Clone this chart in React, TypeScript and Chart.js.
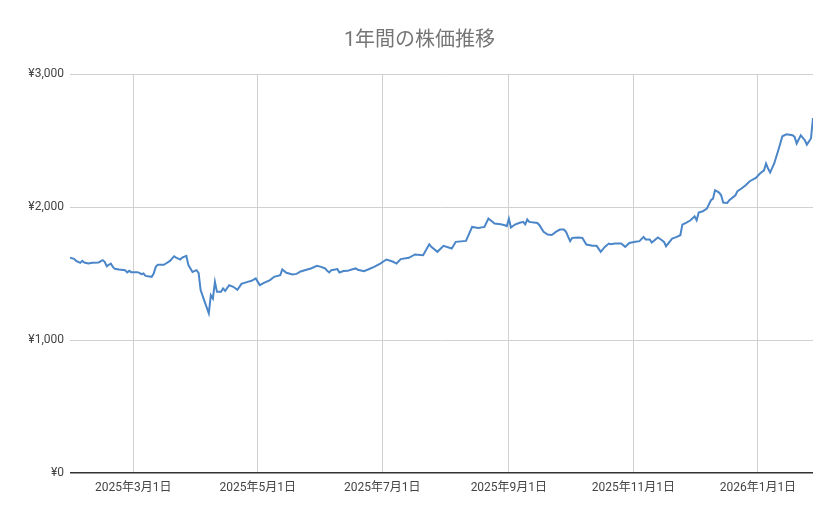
import { useEffect, useRef } from "react";
import { Chart, registerables } from "chart.js";

Chart.register(...registerables);

// days counted from 2025-01-29 (start of the one-year window)
const dayOffsets = [
  0, 2, 3, 5, 6, 7, 9, 11, 14, 16, 17, 18, 20, 21, 22, 24, 27, 28, 29, 30,
  33, 34, 35, 36, 37, 40, 41, 42, 43, 46, 47, 49, 51, 52, 54, 55, 57, 58, 59, 60,
  62, 63, 64, 66, 68, 69, 70, 71, 72, 74, 75, 76, 78, 80, 82, 84, 87, 89, 91, 92,
  93, 95, 98, 100, 103, 104, 106, 109, 111, 113, 115, 118, 121, 123, 125, 126, 127, 128, 131, 132,
  134, 136, 138, 140, 141, 144, 146, 149, 152, 155, 158, 160, 162, 166, 169, 173, 176, 177, 180, 183,
  187, 189, 194, 197, 200, 203, 205, 208, 211, 213, 214, 215, 216, 218, 220, 222, 223, 224, 225, 229,
  230, 232, 234, 236, 238, 240, 242, 243, 245, 246, 249, 251, 253, 256, 258, 260, 262, 264, 265, 267,
  270, 272, 274, 277, 279, 281, 282, 284, 285, 288, 290, 291, 292, 295, 297, 299, 300, 302, 304, 306,
  307, 308, 310, 312, 314, 315, 316, 318, 319, 320, 322, 323, 326, 327, 329, 331, 333, 336, 338, 340,
  341, 342, 343, 345, 347, 349, 351, 354, 355, 356, 358, 360, 361, 363, 364,
];

const prices = [
  1618, 1610, 1595, 1580, 1595, 1583, 1575, 1580, 1583, 1600, 1588, 1555, 1575, 1550, 1535, 1530, 1525, 1508, 1520, 1510,
  1510, 1505, 1495, 1500, 1482, 1475, 1500, 1550, 1565, 1565, 1575, 1595, 1630, 1620, 1605, 1620, 1633, 1563, 1538, 1512,
  1525, 1505, 1375, 1287, 1200, 1337, 1312, 1437, 1362, 1362, 1388, 1370, 1412, 1400, 1378, 1422, 1437, 1445, 1463, 1437,
  1412, 1430, 1450, 1475, 1488, 1530, 1505, 1493, 1497, 1515, 1525, 1538, 1558, 1550, 1538, 1520, 1508, 1525, 1533, 1508,
  1518, 1520, 1530, 1538, 1528, 1518, 1530, 1550, 1575, 1605, 1590, 1575, 1608, 1618, 1643, 1638, 1720, 1700, 1663, 1708,
  1688, 1738, 1745, 1850, 1843, 1850, 1913, 1876, 1870, 1863, 1856, 1913, 1846, 1868, 1880, 1888, 1870, 1906, 1888, 1880,
  1863, 1813, 1793, 1790, 1813, 1830, 1830, 1813, 1743, 1768, 1771, 1768, 1718, 1708, 1708, 1663, 1700, 1725, 1720, 1725,
  1725, 1700, 1730, 1738, 1743, 1775, 1756, 1756, 1733, 1771, 1750, 1738, 1705, 1763, 1773, 1788, 1868, 1883, 1900, 1930,
  1900, 1958, 1968, 1988, 2051, 2063, 2126, 2108, 2088, 2033, 2031, 2051, 2088, 2119, 2139, 2164, 2194, 2219, 2252, 2276,
  2327, 2289, 2259, 2327, 2427, 2532, 2547, 2539, 2527, 2477, 2539, 2502, 2469, 2515, 2669,
];

// month-start ticks (day offsets) and their labels
const tickDays = [31, 92, 153, 215, 276, 337];
const tickLabels = [
  "2025年3月1日",
  "2025年5月1日",
  "2025年7月1日",
  "2025年9月1日",
  "2025年11月1日",
  "2026年1月1日",
];

const yTicks = [0, 1000, 2000, 3000];

const FONT = "Roboto, 'Noto Sans CJK JP', sans-serif";

export default function App() {
  const canvasRef = useRef<HTMLCanvasElement>(null);

  useEffect(() => {
    document.body.style.margin = "0";
    if (!canvasRef.current) return;
    const ctx = canvasRef.current.getContext("2d");
    if (!ctx) return;

    const chart = new Chart(ctx, {
      type: "line",
      data: {
        datasets: [
          {
            label: "株価",
            data: dayOffsets.map((d, i) => ({ x: d, y: prices[i] })),
            borderColor: "#4a86c8",
            borderWidth: 2,
            pointRadius: 0,
            tension: 0,
          },
        ],
      },
      options: {
        responsive: false,
        animation: false,
        // symmetric side padding keeps the title centred on the canvas
        layout: { padding: { left: 26, right: 26, top: 0, bottom: 0 } },
        plugins: {
          legend: { display: false },
          tooltip: { enabled: false },
          title: {
            display: true,
            text: "1年間の株価推移",
            color: "#757575",
            font: { family: FONT, size: 20, weight: "normal" },
            padding: { top: 29, bottom: 21 },
          },
        },
        scales: {
          x: {
            type: "linear",
            min: 0,
            max: 364,
            afterBuildTicks: (scale) => {
              scale.ticks = tickDays.map((v) => ({ value: v }));
            },
            afterFit: (scale) => {
              scale.height = 46;
            },
            ticks: {
              autoSkip: false,
              maxRotation: 0,
              padding: 8,
              color: "#444444",
              font: { family: FONT, size: 12 },
              callback: (value) => {
                const i = tickDays.indexOf(Number(value));
                return i >= 0 ? tickLabels[i] : "";
              },
            },
            grid: { color: "#d0d0d0", drawTicks: false },
            border: { display: false },
          },
          y: {
            min: 0,
            max: 3000,
            afterBuildTicks: (scale) => {
              scale.ticks = yTicks.map((v) => ({ value: v }));
            },
            afterFit: (scale) => {
              scale.width = 44;
            },
            ticks: {
              padding: 6,
              color: "#444444",
              font: { family: FONT, size: 12 },
              callback: (value) => "¥" + Number(value).toLocaleString("en-US"),
            },
            grid: {
              color: (c) => (c.tick && c.tick.value === 0 ? "#333333" : "#d0d0d0"),
              lineWidth: (c) => (c.tick && c.tick.value === 0 ? 1.5 : 1),
              drawTicks: false,
            },
            border: { display: false },
          },
        },
      },
    });

    return () => {
      chart.destroy();
    };
  }, []);

  return (
    <div style={{ width: 839, height: 519, background: "#ffffff" }}>
      <canvas ref={canvasRef} width={839} height={519} />
    </div>
  );
}
